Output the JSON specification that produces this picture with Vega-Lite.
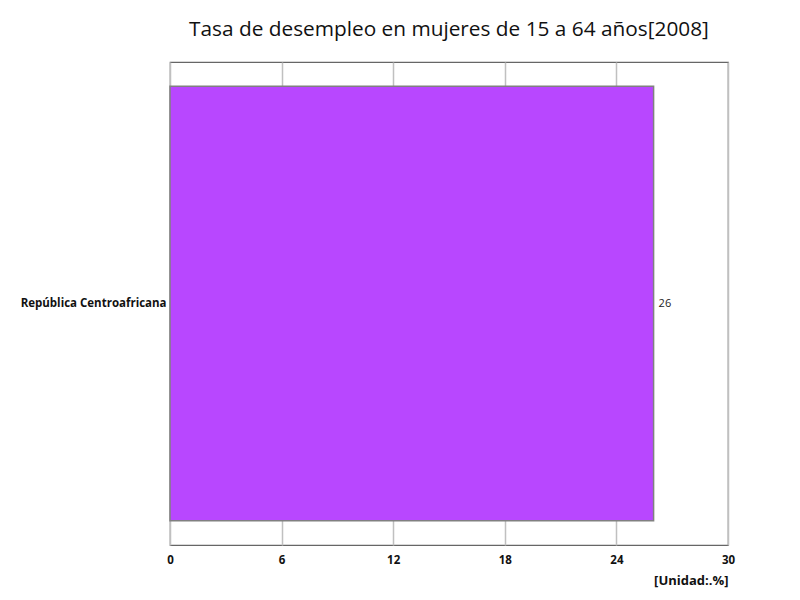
{
  "$schema": "https://vega.github.io/schema/vega-lite/v6.json",
  "autosize": "none",
  "width": 558,
  "height": 483,
  "padding": {"left": 170, "top": 62, "right": 72, "bottom": 55},
  "background": "white",
  "title": {
    "text": "Tasa de desempleo en mujeres de 15 a 64 años[2008]",
    "fontSize": 20.8,
    "font": "Open Sans",
    "fontWeight": "normal",
    "color": "#111111",
    "anchor": "middle",
    "offset": 21
  },
  "config": {
    "view": {"stroke": "#666666", "strokeWidth": 1.2},
    "font": "Open Sans"
  },
  "data": {
    "values": [
      {"country": "República Centroafricana", "value": 26}
    ]
  },
  "layer": [
    {
      "mark": {"type": "bar", "color": "#b847ff", "stroke": "#808080", "strokeWidth": 1.5},
      "encoding": {
        "y": {
          "field": "country",
          "type": "nominal",
          "scale": {"paddingInner": 0.1, "paddingOuter": 0.05},
          "axis": {
            "title": null,
            "domain": false,
            "ticks": false,
            "labelFontSize": 11.5,
            "labelFontWeight": "bold",
            "labelColor": "#111111",
            "labelPadding": 4
          }
        },
        "x": {
          "field": "value",
          "type": "quantitative",
          "scale": {"domain": [0, 30], "nice": false},
          "axis": {
            "values": [0, 6, 12, 18, 24, 30],
            "title": "[Unidad:.%]",
            "titleAnchor": "end",
            "titleAlign": "right",
            "titleFontSize": 13,
            "titleFontWeight": "bold",
            "titleColor": "#111111",
            "titlePadding": 9,
            "domain": false,
            "ticks": false,
            "grid": true,
            "gridColor": "#c0c0c0",
            "gridWidth": 1.5,
            "labelFlush": false,
            "labelFontSize": 11.5,
            "labelFontWeight": "bold",
            "labelColor": "#111111",
            "labelPadding": 9
          }
        }
      }
    },
    {
      "mark": {"type": "text", "align": "left", "dx": 5, "fontSize": 11, "color": "#222222"},
      "encoding": {
        "y": {"field": "country", "type": "nominal"},
        "x": {"field": "value", "type": "quantitative"},
        "text": {"field": "value", "type": "quantitative"}
      }
    }
  ]
}
